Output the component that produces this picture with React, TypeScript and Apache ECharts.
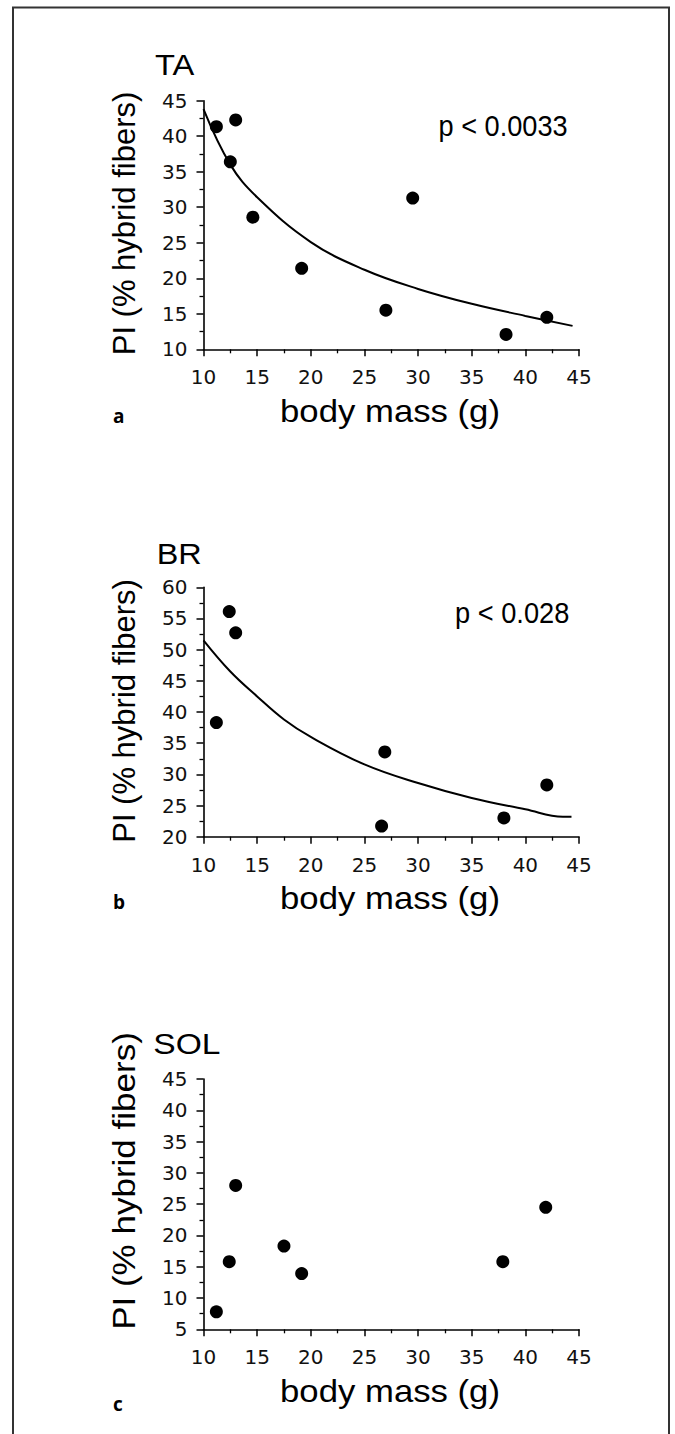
import React, { useEffect, useRef } from "react";
import * as echarts from "echarts";

// ---- data ----
const taMass = [11.2, 13.0, 12.5, 14.6, 19.15, 27.0, 29.5, 38.2, 42.0];
const taPI = [41.35, 42.3, 36.4, 28.6, 21.4, 15.5, 31.3, 12.1, 14.5];
const taFitMass = [10, 12.5, 15, 20, 25, 30, 35, 40, 44.4];
const taFitPI = [43.8, 36.0, 31.4, 25.1, 21.2, 18.5, 16.4, 14.7, 13.3];

const brMass = [12.4, 13.0, 11.2, 26.9, 26.6, 38.0, 42.0];
const brPI = [56.1, 52.7, 38.3, 33.6, 21.7, 23.0, 28.3];
const brFitMass = [10, 12.5, 15, 17.5, 20, 25, 30, 35, 40, 43.5, 44.3];
const brFitPI = [51.5, 46.5, 42.5, 38.8, 36.0, 31.6, 28.6, 26.2, 24.4, 23.2, 23.2];

const solMass = [11.2, 12.4, 13.0, 17.5, 19.15, 37.9, 41.9];
const solPI = [7.8, 15.8, 28.0, 18.3, 13.9, 15.8, 24.5];

const panelNames = ["TA", "BR", "SOL"];
const panelLetters = ["a", "b", "c"];
const pValues = ["p < 0.0033", "p < 0.028", ""];
const yMins = [10, 20, 5];
const yMaxs = [45, 60, 45];
const xMin = 10;
const xMax = 45;
const tickStep = 5;
const xTitle = "body mass (g)";
const yTitle = "PI (% hybrid fibers)";

const pair = (xs: number[], ys: number[]) => xs.map((x, i) => [x, ys[i]]);

// ---- layout ----
const GRID_LEFT = 203.5;
const GRID_WIDTH = 375.5;
const gridTops = [100.7, 587.3, 1079];
const gridHeights = [248.6, 249.4, 250.3];

export default function App() {
  const ref = useRef<HTMLDivElement>(null);

  useEffect(() => {
    if (!ref.current) return;
    const chart = echarts.init(ref.current, undefined, { renderer: "svg" });

    const axisColor = "#000";
    const labelFont = "DejaVu Sans";
    const titleFont = "Liberation Sans";

    const grids = gridTops.map((top, i) => ({
      left: GRID_LEFT,
      top,
      width: GRID_WIDTH,
      height: gridHeights[i],
      outerBoundsMode: "none",
    }));

    const common = {
      axisLine: { show: true, onZero: false, lineStyle: { color: axisColor, width: 1.6 } },
      axisTick: { show: true, inside: false, length: 7, lineStyle: { color: axisColor, width: 1.5 } },
      minorTick: { show: true, splitNumber: 2, length: 4, lineStyle: { color: axisColor, width: 1.3 } },
      splitLine: { show: false },
      minorSplitLine: { show: false },
    };

    const xAxes = gridTops.map((_, i) => ({
      type: "value",
      gridIndex: i,
      min: xMin,
      max: xMax,
      interval: tickStep,
      ...common,
      axisLabel: { fontSize: 20, fontFamily: labelFont, color: "#111", margin: 18 },
    }));

    const yAxes = gridTops.map((_, i) => ({
      type: "value",
      gridIndex: i,
      min: yMins[i],
      max: yMaxs[i],
      interval: tickStep,
      ...common,
      axisLabel: { fontSize: 20, fontFamily: labelFont, color: "#111", margin: 16 },
    }));

    const scatterData = [pair(taMass, taPI), pair(brMass, brPI), pair(solMass, solPI)];
    const fitData = [pair(taFitMass, taFitPI), pair(brFitMass, brFitPI)];

    const series: any[] = [];
    fitData.forEach((d, i) => {
      series.push({
        type: "line",
        xAxisIndex: i,
        yAxisIndex: i,
        data: d,
        smooth: 0.4,
        symbol: "none",
        lineStyle: { color: "#000", width: 2 },
        z: 2,
      });
    });
    scatterData.forEach((d, i) => {
      series.push({
        type: "scatter",
        xAxisIndex: i,
        yAxisIndex: i,
        data: d,
        symbol: "circle",
        symbolSize: 13,
        itemStyle: { color: "#000", opacity: 1 },
        z: 3,
      });
    });

    const graphics: any[] = [
      {
        type: "rect",
        shape: { x: 13, y: 7.5, width: 656, height: 1500 },
        style: { fill: "none", stroke: "#333", lineWidth: 2 },
        silent: true,
      },
    ];

    const titleLeft = [155, 156.7, 153.3];
    const titleMidY = [65, 554, 1043.3];
    const titleScale = [1.09, 1.08, 1.12];
    const pLeft = [438.5, 455];
    const pMidY = [125.5, 612.2];
    const pScale = [0.905, 0.908];
    const letterMidY = [416, 902, 1404];
    const yTitleMid = [223.5, 711, 1181];
    const yTitleScale = [1.0, 1.0, 1.13];

    gridTops.forEach((top, i) => {
      const axisY = top + gridHeights[i];
      graphics.push({
        type: "text",
        x: titleLeft[i],
        y: titleMidY[i],
        scaleX: titleScale[i],
        style: {
          text: panelNames[i],
          fontFamily: titleFont,
          fontSize: 30,
          fill: "#000",
          align: "left",
          verticalAlign: "middle",
        },
      });
      if (pValues[i]) {
        graphics.push({
          type: "text",
          x: pLeft[i],
          y: pMidY[i],
          scaleX: pScale[i],
          style: {
            text: pValues[i],
            fontFamily: titleFont,
            fontSize: 30,
            fill: "#000",
            align: "left",
            verticalAlign: "middle",
          },
        });
      }
      graphics.push({
        type: "text",
        x: 390,
        y: axisY + 61.8,
        scaleX: 1.12,
        style: {
          text: xTitle,
          fontFamily: titleFont,
          fontSize: 31,
          fill: "#000",
          align: "center",
          verticalAlign: "middle",
        },
      });
      graphics.push({
        type: "text",
        x: 124.3,
        y: yTitleMid[i],
        rotation: Math.PI / 2,
        scaleX: yTitleScale[i],
        style: {
          text: yTitle,
          fontFamily: titleFont,
          fontSize: 31,
          fill: "#000",
          align: "center",
          verticalAlign: "middle",
        },
      });
      graphics.push({
        type: "text",
        x: 113,
        y: letterMidY[i],
        style: {
          text: panelLetters[i],
          fontFamily: "Open Sans",
          fontWeight: "bold",
          fontSize: 19,
          fill: "#000",
          align: "left",
          verticalAlign: "middle",
        },
      });
    });

    chart.setOption({
      animation: false,
      backgroundColor: "#ffffff",
      grid: grids,
      xAxis: xAxes,
      yAxis: yAxes,
      series,
      graphic: graphics,
    } as any);

    return () => chart.dispose();
  }, []);

  return (
    <div
      ref={ref}
      style={{ position: "fixed", left: 0, top: 0, width: 675, height: 1434, background: "#fff" }}
    />
  );
}
